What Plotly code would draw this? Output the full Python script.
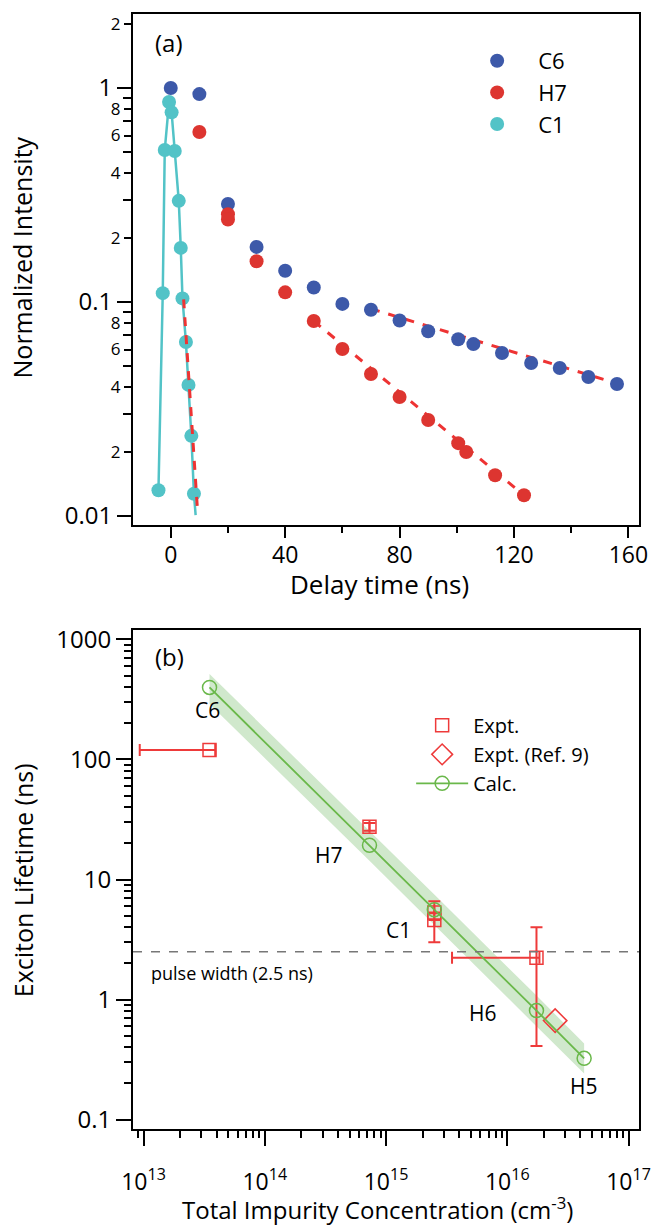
import math
import plotly.graph_objects as go

# ---------------- Panel (a) data ----------------
c6_t = [0, 10, 20, 30, 40, 50, 60, 70, 80, 90, 100.5, 105.8, 115.8, 126, 136, 146, 156]
c6_i = [1.0, 0.937, 0.287, 0.181, 0.14, 0.117, 0.098, 0.092, 0.082, 0.073, 0.067, 0.0636,
        0.0578, 0.0519, 0.0492, 0.0446, 0.0414]

h7_t = [10, 20, 20, 30, 40, 50, 60, 70, 80, 90, 100.5, 103.3, 113.4, 123.5]
h7_i = [0.623, 0.257, 0.243, 0.155, 0.111, 0.0815, 0.0603, 0.0461, 0.036, 0.0281, 0.0219,
        0.0199, 0.0155, 0.0125]

c1_t = [-4.3, -2.8, -2.1, -0.6, 0.3, 1.4, 2.8, 3.5, 4.1, 5.3, 6.2, 7.2, 8.1]
c1_i = [0.0132, 0.110, 0.513, 0.86, 0.77, 0.508, 0.297, 0.179, 0.104, 0.065, 0.041, 0.0237, 0.0127]
c1_line_t = c1_t + [8.7]
c1_line_i = c1_i + [0.0101]

fit_c6_t = [70, 159]
fit_c6_i = [0.093, 0.0405]
fit_h7_t = [50, 123.5]
fit_h7_i = [0.0815, 0.0125]
fit_c1_t = [4.5, 9.4]
fit_c1_i = [0.103, 0.0104]

# ---------------- Panel (b) data ----------------
calc_labels = ["C6", "H7", "C1", "H6", "H5"]
calc_n = [3.5e13, 7.3e14, 2.5e15, 1.74e16, 4.3e16]
calc_tau = [398, 19.3, 5.6, 0.81, 0.324]
band_hi = [515, 25.5, 7.5, 1.08, 0.43]
band_lo = [290, 14.3, 4.2, 0.60, 0.242]

expt_n = [3.5e13, 7.3e14, 2.5e15, 2.5e15, 1.74e16]
expt_tau = [120, 27.5, 5.3, 4.6, 2.23]
expt_err_plus = [0, 2.0, 1.3, 0, 1.77]
expt_err_minus = [0, 2.0, 0, 1.6, 1.82]
expt_nerr_plus = [0.4e13, 0, 0, 0, 0.1e16]
expt_nerr_minus = [2.57e13, 0, 0, 0, 1.39e16]

ref9_n = [2.48e16]
ref9_tau = [0.668]

pulse_width = 2.5

# ---------------- styles ----------------
FONT = "Open Sans"
BLUE = "#3d59a9"
RED = "#dd3530"
CYAN = "#52c3c7"
RED_DASH = "#ee3333"
ERED = "#ee3a3a"
GREEN = "#6ab84a"

fig = go.Figure()

# panel (a)
fig.add_trace(go.Scatter(x=fit_c6_t, y=fit_c6_i, mode="lines", showlegend=False,
                         line=dict(color=RED_DASH, width=3, dash="dash"), xaxis="x", yaxis="y"))
fig.add_trace(go.Scatter(x=fit_h7_t, y=fit_h7_i, mode="lines", showlegend=False,
                         line=dict(color=RED_DASH, width=3, dash="dash"), xaxis="x", yaxis="y"))
fig.add_trace(go.Scatter(x=c1_line_t, y=c1_line_i, mode="lines", showlegend=False,
                         line=dict(color=CYAN, width=2.5), xaxis="x", yaxis="y"))
fig.add_trace(go.Scatter(x=c6_t, y=c6_i, mode="markers", name="C6", legend="legend",
                         marker=dict(color=BLUE, size=14), xaxis="x", yaxis="y"))
fig.add_trace(go.Scatter(x=h7_t, y=h7_i, mode="markers", name="H7", legend="legend",
                         marker=dict(color=RED, size=14), xaxis="x", yaxis="y"))
fig.add_trace(go.Scatter(x=c1_t, y=c1_i, mode="markers", name="C1", legend="legend",
                         marker=dict(color=CYAN, size=14), xaxis="x", yaxis="y"))
fig.add_trace(go.Scatter(x=fit_c1_t, y=fit_c1_i, mode="lines", showlegend=False,
                         line=dict(color=RED_DASH, width=3, dash="dash"), xaxis="x", yaxis="y"))
# invisible helper so the overlaid digit-label axis is drawn
fig.add_trace(go.Scatter(x=c6_t[:1], y=c6_i[:1], mode="markers", showlegend=False,
                         marker=dict(opacity=0), hoverinfo="skip", xaxis="x", yaxis="y3"))

# panel (b)
fig.add_trace(go.Scatter(x=calc_n + calc_n[::-1], y=band_hi + band_lo[::-1], fill="toself",
                         mode="lines", line=dict(width=0), fillcolor="rgba(110,185,95,0.32)",
                         showlegend=False, hoverinfo="skip", xaxis="x2", yaxis="y2"))
fig.add_trace(go.Scatter(x=expt_n, y=expt_tau, mode="markers", name="Expt.", legend="legend2",
                         marker=dict(symbol="square-open", color=ERED, size=13, line=dict(width=1.5)),
                         error_y=dict(type="data", symmetric=False, array=expt_err_plus,
                                      arrayminus=expt_err_minus, color=ERED, thickness=2, width=6),
                         error_x=dict(type="data", symmetric=False, array=expt_nerr_plus,
                                      arrayminus=expt_nerr_minus, color=ERED, thickness=2, width=6),
                         xaxis="x2", yaxis="y2"))
fig.add_trace(go.Scatter(x=ref9_n, y=ref9_tau, mode="markers", name="Expt. (Ref. 9)", legend="legend2",
                         marker=dict(symbol="diamond-open", color=ERED, size=18, line=dict(width=1.5)),
                         xaxis="x2", yaxis="y2"))
fig.add_trace(go.Scatter(x=calc_n, y=calc_tau, mode="lines+markers", name="Calc.", legend="legend2",
                         line=dict(color=GREEN, width=1.8),
                         marker=dict(symbol="circle-open", color=GREEN, size=14, line=dict(width=1.5)),
                         xaxis="x2", yaxis="y2"))

axis_common = dict(showline=True, linecolor="black", linewidth=2, mirror=True, showgrid=False,
                   zeroline=False, ticks="outside", tickcolor="black", tickwidth=2,
                   tickfont=dict(family=FONT, size=24, color="black"), automargin=False,
                   ticklabeloverflow="allow")

# minor tick lists for log axes
a_minor = [m * 10.0 ** e for e in (-2, -1, 0) for m in (3, 5, 7, 9) if m * 10.0 ** e < 2.2]
a_digits = [0.02, 0.04, 0.06, 0.08, 0.2, 0.4, 0.6, 0.8, 2]
a_digit_text = ["2", "4", "6", "8", "2", "4", "6", "8", "2"]
b_minor_y = [m * 10.0 ** e for e in range(-1, 3) for m in range(2, 10)]
b_minor_x = [m * 10.0 ** e for e in range(12, 17) for m in range(2, 10)
             if 10 ** 12.913 < m * 10.0 ** e < 10 ** 17.086]

fig.update_layout(
    width=651, height=1226,
    margin=dict(l=133, r=12, t=14, b=97),
    paper_bgcolor="white", plot_bgcolor="white",
    font=dict(family=FONT, color="black"),
    xaxis=dict(axis_common, domain=[0, 1], anchor="y", range=[-13.2, 163.7],
               tickvals=[0, 40, 80, 120, 160], ticklen=11, ticklabelstandoff=-3,
               tickfont=dict(family=FONT, size=23, color="black"),
               minor=dict(tickvals=[20, 60, 100, 140], ticks="outside", ticklen=6,
                          tickcolor="black", tickwidth=2)),
    yaxis=dict(axis_common, domain=[0.5417, 1], anchor="x", type="log", range=[-2.042, 0.346],
               tickvals=[0.01, 0.1, 1], ticktext=["0.01", "0.1", "1"], ticklen=14,
               minor=dict(tickvals=a_minor, ticks="outside", ticklen=8, tickcolor="black", tickwidth=2)),
    yaxis3=dict(overlaying="y", anchor="x", side="left", type="log", range=[-2.042, 0.346],
                showline=False, showgrid=False, zeroline=False, ticks="outside", ticklen=8,
                tickcolor="black", tickwidth=2, tickvals=a_digits, ticktext=a_digit_text,
                tickfont=dict(family=FONT, size=17, color="black"), automargin=False),
    xaxis2=dict(axis_common, domain=[0, 1], anchor="y2", type="log", range=[12.913, 17.086],
                tickvals=[1e13, 1e14, 1e15, 1e16, 1e17],
                ticktext=["10<sup>13</sup>", "10<sup>14</sup>", "10<sup>15</sup>",
                          "10<sup>16</sup>", "10<sup>17</sup>"],
                tickfont=dict(family=FONT, size=23, color="black"),
                ticklen=15, ticklabelstandoff=16,
                minor=dict(tickvals=b_minor_x, ticks="outside", ticklen=7, tickcolor="black", tickwidth=2)),
    yaxis2=dict(axis_common, domain=[0, 0.4475], anchor="x2", type="log", range=[-1.078, 3.078],
                tickvals=[0.1, 1, 10, 100, 1000], ticktext=["0.1", "1", "10", "100", "1000"],
                ticklen=15,
                minor=dict(tickvals=b_minor_y, ticks="outside", ticklen=7, tickcolor="black", tickwidth=2)),
    legend=dict(x=0.6386, y=0.9767, xanchor="left", yanchor="top", bgcolor="rgba(0,0,0,0)",
                font=dict(family=FONT, size=22), itemwidth=72),
    legend2=dict(x=0.5497, y=0.3795, xanchor="left", yanchor="top", bgcolor="rgba(0,0,0,0)",
                 font=dict(family=FONT, size=20), itemwidth=52, tracegroupgap=0),
)

# axis titles
TITLE_FONT = dict(family=FONT, size=25, color="black")
fig.add_annotation(xref="x domain", yref="paper", x=0.488, y=0.4887, text="Delay time (ns)",
                   showarrow=False, xanchor="center", yanchor="middle", font=dict(family=FONT, size=26))
fig.add_annotation(xref="paper", yref="paper", x=-0.2186, y=0.782, text="Normalized Intensity",
                   textangle=-90, showarrow=False, xanchor="center", yanchor="middle", font=TITLE_FONT)
fig.add_annotation(xref="x2 domain", yref="paper", x=0.4835, y=-0.0712,
                   text="Total Impurity Concentration (cm<sup>-3</sup>)",
                   showarrow=False, xanchor="center", yanchor="middle",
                   font=dict(family=FONT, size=24, color="black"))
fig.add_annotation(xref="paper", yref="paper", x=-0.2186, y=0.2235, text="Exciton Lifetime (ns)",
                   textangle=-90, showarrow=False, xanchor="center", yanchor="middle", font=TITLE_FONT)

# pulse-width reference line
fig.add_shape(type="line", xref="x2 domain", x0=0, x1=1, yref="y2", y0=pulse_width, y1=pulse_width,
              line=dict(color="#777777", width=1.5, dash="dash"))
fig.add_annotation(xref="x2 domain", x=0.032, yref="y2", y=math.log10(pulse_width), yshift=-21,
                   xanchor="left", yanchor="middle", text="pulse width (2.5 ns)", showarrow=False,
                   font=dict(family=FONT, size=18))

# panel letters
fig.add_annotation(xref="x domain", yref="y domain", x=0.0717, y=0.945, xanchor="center", yanchor="middle",
                   text="(a)", showarrow=False, font=dict(family=FONT, size=24))
fig.add_annotation(xref="x2 domain", yref="y2 domain", x=0.0717, y=0.946, xanchor="center", yanchor="middle",
                   text="(b)", showarrow=False, font=dict(family=FONT, size=24))

# sample labels in panel (b)
label_shift = {"C6": (-2, -23), "H7": (-40, -10), "C1": (-36, -20), "H6": (-53, -2), "H5": (0, -28)}
for lab, n, t in zip(calc_labels, calc_n, calc_tau):
    dx, dy = label_shift[lab]
    fig.add_annotation(xref="x2", yref="y2", x=math.log10(n), y=math.log10(t), xshift=dx, yshift=dy,
                       text=lab, showarrow=False, xanchor="center", yanchor="middle",
                       font=dict(family=FONT, size=21))

fig.write_html("out.html", config={"displayModeBar": False},
               post_script="document.body.style.margin='0';")
